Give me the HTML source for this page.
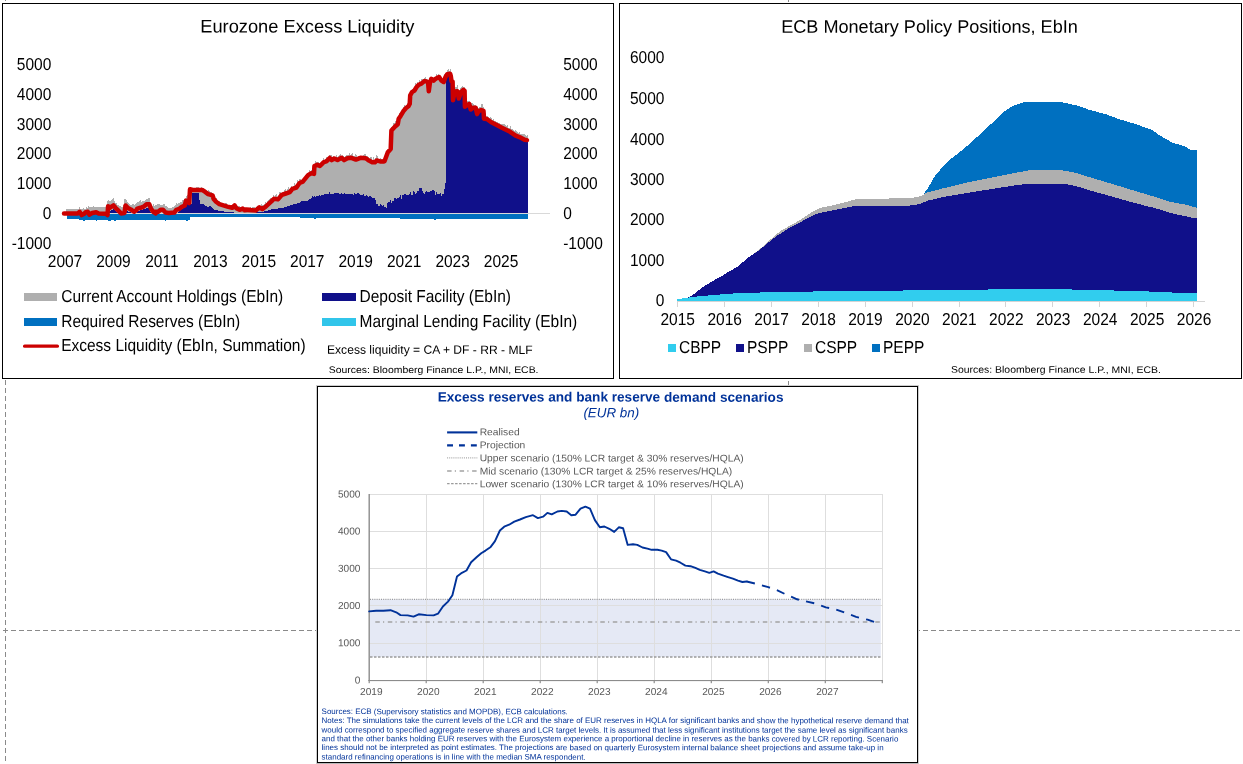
<!DOCTYPE html>
<html><head><meta charset="utf-8"><title>ECB liquidity charts</title>
<style>html,body{margin:0;padding:0;background:#fff;overflow:hidden}svg{display:block;will-change:transform}text{font-family:"Liberation Sans",sans-serif;text-rendering:geometricPrecision}</style></head>
<body>
<svg width="1243" height="764" viewBox="0 0 1243 764">
<rect x="0" y="0" width="1243" height="764" fill="#fff"/>
<g stroke="#8a8a8a" stroke-width="1" fill="none" shape-rendering="crispEdges">
<path d="M3,630.5H1243" stroke-dasharray="5 3"/>
<path d="M5.5,-4V764" stroke-dasharray="5 3"/>
<path d="M788.5,-3V764" stroke-dasharray="5 3"/>
</g>
<rect x="316.5" y="385.5" width="602" height="378" fill="none" stroke="#cdcdcd" stroke-width="1" shape-rendering="crispEdges"/>
<rect x="317" y="763" width="601" height="1" fill="#b8b8b8"/>
<g fill="#fff" stroke="#000" stroke-width="1" shape-rendering="crispEdges">
<rect x="2.5" y="3.5" width="611" height="375"/>
<rect x="619.5" y="3.5" width="622" height="375"/>
<rect x="317.5" y="386.5" width="600" height="376"/>
</g>
<g id="left">
<g shape-rendering="crispEdges">
<path d="M66.0,209.2 L67.0,209.2 L67.0,209.1 L68.0,209.1 L68.0,209.0 L69.0,209.0 L69.0,208.9 L70.0,208.9 L70.0,208.7 L71.0,208.7 L71.0,208.6 L72.0,208.6 L72.0,208.6 L73.0,208.6 L73.0,208.6 L74.0,208.6 L74.0,208.6 L75.0,208.6 L75.0,208.6 L76.0,208.6 L76.0,208.5 L77.0,208.5 L77.0,208.5 L78.0,208.5 L78.0,208.5 L79.0,208.5 L79.0,207.2 L80.0,207.2 L80.0,208.5 L81.0,208.5 L81.0,208.5 L82.0,208.5 L82.0,208.6 L83.0,208.6 L83.0,207.7 L84.0,207.7 L84.0,209.1 L85.0,209.1 L85.0,208.8 L86.0,208.8 L86.0,207.1 L87.0,207.1 L87.0,208.0 L88.0,208.0 L88.0,206.4 L89.0,206.4 L89.0,207.4 L90.0,207.4 L90.0,207.4 L91.0,207.4 L91.0,207.4 L92.0,207.4 L92.0,207.4 L93.0,207.4 L93.0,206.1 L94.0,206.1 L94.0,207.4 L95.0,207.4 L95.0,207.4 L96.0,207.4 L96.0,207.4 L97.0,207.4 L97.0,207.4 L98.0,207.4 L98.0,207.4 L99.0,207.4 L99.0,207.4 L100.0,207.4 L100.0,207.4 L101.0,207.4 L101.0,207.4 L102.0,207.4 L102.0,207.4 L103.0,207.4 L103.0,207.4 L104.0,207.4 L104.0,207.3 L105.0,207.3 L105.0,207.1 L106.0,207.1 L106.0,204.5 L107.0,204.5 L107.0,201.1 L108.0,201.1 L108.0,200.2 L109.0,200.2 L109.0,201.1 L110.0,201.1 L110.0,201.2 L111.0,201.2 L111.0,200.3 L112.0,200.3 L112.0,199.4 L113.0,199.4 L113.0,198.1 L114.0,198.1 L114.0,201.0 L115.0,201.0 L115.0,202.9 L116.0,202.9 L116.0,202.8 L117.0,202.8 L117.0,204.7 L118.0,204.7 L118.0,205.3 L119.0,205.3 L119.0,205.9 L120.0,205.9 L120.0,206.3 L121.0,206.3 L121.0,206.6 L122.0,206.6 L122.0,206.9 L123.0,206.9 L123.0,204.8 L124.0,204.8 L124.0,199.0 L125.0,199.0 L125.0,199.0 L126.0,199.0 L126.0,199.5 L127.0,199.5 L127.0,202.3 L128.0,202.3 L128.0,203.1 L129.0,203.1 L129.0,203.8 L130.0,203.8 L130.0,204.6 L131.0,204.6 L131.0,204.8 L132.0,204.8 L132.0,203.6 L133.0,203.6 L133.0,203.8 L134.0,203.8 L134.0,205.2 L135.0,205.2 L135.0,204.0 L136.0,204.0 L136.0,202.9 L137.0,202.9 L137.0,202.4 L138.0,202.4 L138.0,202.2 L139.0,202.2 L139.0,200.7 L140.0,200.7 L140.0,200.4 L141.0,200.4 L141.0,201.5 L142.0,201.5 L142.0,201.3 L143.0,201.3 L143.0,201.1 L144.0,201.1 L144.0,200.6 L145.0,200.6 L145.0,199.9 L146.0,199.9 L146.0,199.2 L147.0,199.2 L147.0,198.5 L148.0,198.5 L148.0,198.2 L149.0,198.2 L149.0,198.2 L150.0,198.2 L150.0,203.5 L151.0,203.5 L151.0,205.5 L152.0,205.5 L152.0,205.6 L153.0,205.6 L153.0,204.3 L154.0,204.3 L154.0,205.7 L155.0,205.7 L155.0,205.4 L156.0,205.4 L156.0,205.4 L157.0,205.4 L157.0,204.1 L158.0,204.1 L158.0,204.1 L159.0,204.1 L159.0,204.1 L160.0,204.1 L160.0,205.4 L161.0,205.4 L161.0,205.4 L162.0,205.4 L162.0,205.4 L163.0,205.4 L163.0,204.1 L164.0,204.1 L164.0,204.1 L165.0,204.1 L165.0,205.7 L166.0,205.7 L166.0,206.4 L167.0,206.4 L167.0,207.2 L168.0,207.2 L168.0,207.7 L169.0,207.7 L169.0,207.7 L170.0,207.7 L170.0,207.6 L171.0,207.6 L171.0,207.5 L172.0,207.5 L172.0,207.4 L173.0,207.4 L173.0,207.0 L174.0,207.0 L174.0,206.2 L175.0,206.2 L175.0,205.3 L176.0,205.3 L176.0,203.4 L177.0,203.4 L177.0,204.1 L178.0,204.1 L178.0,203.4 L179.0,203.4 L179.0,202.8 L180.0,202.8 L180.0,202.1 L181.0,202.1 L181.0,201.5 L182.0,201.5 L182.0,199.6 L183.0,199.6 L183.0,200.3 L184.0,200.3 L184.0,198.5 L185.0,198.5 L185.0,199.2 L186.0,199.2 L186.0,195.8 L187.0,195.8 L187.0,194.9 L188.0,194.9 L188.0,196.0 L189.0,196.0 L189.0,188.1 L190.0,188.1 L190.0,188.0 L191.0,188.0 L191.0,187.9 L192.0,187.9 L192.0,187.8 L193.0,187.8 L193.0,187.7 L194.0,187.7 L194.0,187.6 L195.0,187.6 L195.0,187.5 L196.0,187.5 L196.0,187.4 L197.0,187.4 L197.0,187.3 L198.0,187.3 L198.0,187.4 L199.0,187.4 L199.0,187.6 L200.0,187.6 L200.0,187.8 L201.0,187.8 L201.0,186.7 L202.0,186.7 L202.0,188.2 L203.0,188.2 L203.0,188.4 L204.0,188.4 L204.0,189.0 L205.0,189.0 L205.0,189.7 L206.0,189.7 L206.0,190.4 L207.0,190.4 L207.0,191.1 L208.0,191.1 L208.0,190.2 L209.0,190.2 L209.0,190.5 L210.0,190.5 L210.0,192.1 L211.0,192.1 L211.0,192.4 L212.0,192.4 L212.0,193.4 L213.0,193.4 L213.0,194.8 L214.0,194.8 L214.0,196.2 L215.0,196.2 L215.0,197.9 L216.0,197.9 L216.0,198.2 L217.0,198.2 L217.0,200.4 L218.0,200.4 L218.0,201.2 L219.0,201.2 L219.0,200.6 L220.0,200.6 L220.0,202.4 L221.0,202.4 L221.0,202.8 L222.0,202.8 L222.0,203.2 L223.0,203.2 L223.0,203.6 L224.0,203.6 L224.0,204.0 L225.0,204.0 L225.0,203.0 L226.0,203.0 L226.0,203.3 L227.0,203.3 L227.0,204.9 L228.0,204.9 L228.0,205.1 L229.0,205.1 L229.0,205.4 L230.0,205.4 L230.0,205.6 L231.0,205.6 L231.0,205.9 L232.0,205.9 L232.0,205.4 L233.0,205.4 L233.0,204.4 L234.0,204.4 L234.0,203.8 L235.0,203.8 L235.0,204.4 L236.0,204.4 L236.0,204.9 L237.0,204.9 L237.0,205.6 L238.0,205.6 L238.0,206.0 L239.0,206.0 L239.0,206.3 L240.0,206.3 L240.0,206.5 L241.0,206.5 L241.0,207.8 L242.0,207.8 L242.0,207.8 L243.0,207.8 L243.0,207.8 L244.0,207.8 L244.0,207.8 L245.0,207.8 L245.0,207.8 L246.0,207.8 L246.0,207.8 L247.0,207.8 L247.0,207.8 L248.0,207.8 L248.0,207.8 L249.0,207.8 L249.0,207.8 L250.0,207.8 L250.0,206.5 L251.0,206.5 L251.0,207.8 L252.0,207.8 L252.0,206.5 L253.0,206.5 L253.0,206.5 L254.0,206.5 L254.0,206.5 L255.0,206.5 L255.0,207.8 L256.0,207.8 L256.0,207.8 L257.0,207.8 L257.0,207.8 L258.0,207.8 L258.0,207.1 L259.0,207.1 L259.0,206.8 L260.0,206.8 L260.0,207.2 L261.0,207.2 L261.0,204.4 L262.0,204.4 L262.0,204.7 L263.0,204.7 L263.0,204.9 L264.0,204.9 L264.0,204.1 L265.0,204.1 L265.0,202.2 L266.0,202.2 L266.0,203.3 L267.0,203.3 L267.0,201.4 L268.0,201.4 L268.0,199.5 L269.0,199.5 L269.0,198.6 L270.0,198.6 L270.0,197.7 L271.0,197.7 L271.0,197.8 L272.0,197.8 L272.0,197.8 L273.0,197.8 L273.0,194.8 L274.0,194.8 L274.0,196.7 L275.0,196.7 L275.0,194.9 L276.0,194.9 L276.0,193.9 L277.0,193.9 L277.0,197.2 L278.0,197.2 L278.0,196.2 L279.0,196.2 L279.0,191.8 L280.0,191.8 L280.0,191.9 L281.0,191.9 L281.0,192.8 L282.0,192.8 L282.0,192.4 L283.0,192.4 L283.0,192.1 L284.0,192.1 L284.0,189.8 L285.0,189.8 L285.0,189.4 L286.0,189.4 L286.0,191.1 L287.0,191.1 L287.0,188.8 L288.0,188.8 L288.0,187.2 L289.0,187.2 L289.0,188.9 L290.0,188.9 L290.0,188.6 L291.0,188.6 L291.0,186.4 L292.0,186.4 L292.0,186.7 L293.0,186.7 L293.0,186.4 L294.0,186.4 L294.0,182.8 L295.0,182.8 L295.0,184.7 L296.0,184.7 L296.0,183.6 L297.0,183.6 L297.0,180.0 L298.0,180.0 L298.0,181.8 L299.0,181.8 L299.0,178.9 L300.0,178.9 L300.0,178.5 L301.0,178.5 L301.0,180.1 L302.0,180.1 L302.0,179.5 L303.0,179.5 L303.0,178.3 L304.0,178.3 L304.0,177.0 L305.0,177.0 L305.0,174.8 L306.0,174.8 L306.0,174.5 L307.0,174.5 L307.0,173.3 L308.0,173.3 L308.0,172.6 L309.0,172.6 L309.0,170.0 L310.0,170.0 L310.0,171.4 L311.0,171.4 L311.0,170.2 L312.0,170.2 L312.0,170.4 L313.0,170.4 L313.0,169.4 L314.0,169.4 L314.0,163.7 L315.0,163.7 L315.0,161.3 L316.0,161.3 L316.0,161.8 L317.0,161.8 L317.0,161.7 L318.0,161.7 L318.0,162.1 L319.0,162.1 L319.0,163.6 L320.0,163.6 L320.0,162.9 L321.0,162.9 L321.0,161.9 L322.0,161.9 L322.0,160.9 L323.0,160.9 L323.0,158.0 L324.0,158.0 L324.0,159.8 L325.0,159.8 L325.0,158.5 L326.0,158.5 L326.0,156.8 L327.0,156.8 L327.0,156.8 L328.0,156.8 L328.0,156.7 L329.0,156.7 L329.0,155.0 L330.0,155.0 L330.0,155.4 L331.0,155.4 L331.0,155.4 L332.0,155.4 L332.0,157.3 L333.0,157.3 L333.0,155.7 L334.0,155.7 L334.0,156.5 L335.0,156.5 L335.0,156.9 L336.0,156.9 L336.0,155.4 L337.0,155.4 L337.0,156.8 L338.0,156.8 L338.0,156.2 L339.0,156.2 L339.0,154.6 L340.0,154.6 L340.0,154.0 L341.0,154.0 L341.0,155.8 L342.0,155.8 L342.0,155.2 L343.0,155.2 L343.0,156.1 L344.0,156.1 L344.0,156.6 L345.0,156.6 L345.0,156.0 L346.0,156.0 L346.0,155.4 L347.0,155.4 L347.0,155.1 L348.0,155.1 L348.0,155.0 L349.0,155.0 L349.0,152.7 L350.0,152.7 L350.0,154.8 L351.0,154.8 L351.0,153.8 L352.0,153.8 L352.0,152.8 L353.0,152.8 L353.0,156.4 L354.0,156.4 L354.0,155.8 L355.0,155.8 L355.0,154.0 L356.0,154.0 L356.0,155.1 L357.0,155.1 L357.0,156.7 L358.0,156.7 L358.0,156.3 L359.0,156.3 L359.0,155.9 L360.0,155.9 L360.0,155.8 L361.0,155.8 L361.0,155.8 L362.0,155.8 L362.0,155.9 L363.0,155.9 L363.0,154.9 L364.0,154.9 L364.0,154.0 L365.0,154.0 L365.0,154.1 L366.0,154.1 L366.0,156.4 L367.0,156.4 L367.0,156.1 L368.0,156.1 L368.0,156.9 L369.0,156.9 L369.0,158.7 L370.0,158.7 L370.0,157.2 L371.0,157.2 L371.0,156.5 L372.0,156.5 L372.0,160.2 L373.0,160.2 L373.0,157.1 L374.0,157.1 L374.0,160.2 L375.0,160.2 L375.0,158.2 L376.0,158.2 L376.0,155.2 L377.0,155.2 L377.0,156.4 L378.0,156.4 L378.0,158.8 L379.0,158.8 L379.0,159.1 L380.0,159.1 L380.0,158.4 L381.0,158.4 L381.0,159.4 L382.0,159.4 L382.0,159.4 L383.0,159.4 L383.0,159.4 L384.0,159.4 L384.0,155.8 L385.0,155.8 L385.0,155.1 L386.0,155.1 L386.0,151.4 L387.0,151.4 L387.0,150.1 L388.0,150.1 L388.0,148.9 L389.0,148.9 L389.0,147.8 L390.0,147.8 L390.0,138.0 L391.0,138.0 L391.0,126.9 L392.0,126.9 L392.0,126.8 L393.0,126.8 L393.0,122.5 L394.0,122.5 L394.0,122.5 L395.0,122.5 L395.0,120.5 L396.0,120.5 L396.0,122.9 L397.0,122.9 L397.0,121.2 L398.0,121.2 L398.0,116.3 L399.0,116.3 L399.0,112.8 L400.0,112.8 L400.0,113.2 L401.0,113.2 L401.0,111.5 L402.0,111.5 L402.0,109.9 L403.0,109.9 L403.0,106.5 L404.0,106.5 L404.0,105.4 L405.0,105.4 L405.0,106.2 L406.0,106.2 L406.0,105.4 L407.0,105.4 L407.0,102.6 L408.0,102.6 L408.0,102.2 L409.0,102.2 L409.0,96.2 L410.0,96.2 L410.0,91.9 L411.0,91.9 L411.0,90.1 L412.0,90.1 L412.0,88.5 L413.0,88.5 L413.0,88.9 L414.0,88.9 L414.0,87.6 L415.0,87.6 L415.0,82.8 L416.0,82.8 L416.0,83.7 L417.0,83.7 L417.0,81.7 L418.0,81.7 L418.0,82.7 L419.0,82.7 L419.0,80.2 L420.0,80.2 L420.0,81.7 L421.0,81.7 L421.0,79.1 L422.0,79.1 L422.0,79.3 L423.0,79.3 L423.0,79.4 L424.0,79.4 L424.0,78.1 L425.0,78.1 L425.0,77.2 L426.0,77.2 L426.0,79.4 L427.0,79.4 L427.0,79.8 L428.0,79.8 L428.0,79.8 L429.0,79.8 L429.0,80.7 L430.0,80.7 L430.0,77.7 L431.0,77.7 L431.0,76.8 L432.0,76.8 L432.0,77.4 L433.0,77.4 L433.0,78.2 L434.0,78.2 L434.0,77.2 L435.0,77.2 L435.0,76.6 L436.0,76.6 L436.0,74.0 L437.0,74.0 L437.0,75.5 L438.0,75.5 L438.0,74.0 L439.0,74.0 L439.0,75.0 L440.0,75.0 L440.0,76.4 L441.0,76.4 L441.0,78.0 L442.0,78.0 L442.0,79.0 L443.0,79.0 L443.0,79.1 L444.0,79.1 L444.0,74.3 L445.0,74.3 L445.0,73.2 L446.0,73.2 L446.0,72.7 L447.0,72.7 L447.0,70.0 L448.0,70.0 L448.0,68.8 L449.0,68.8 L449.0,70.7 L450.0,70.7 L450.0,68.6 L451.0,68.6 L451.0,73.4 L452.0,73.4 L452.0,77.2 L453.0,77.2 L453.0,90.0 L454.0,90.0 L454.0,88.5 L455.0,88.5 L455.0,87.3 L456.0,87.3 L456.0,87.1 L457.0,87.1 L457.0,85.1 L458.0,85.1 L458.0,91.2 L459.0,91.2 L459.0,90.0 L460.0,90.0 L460.0,88.2 L461.0,88.2 L461.0,87.1 L462.0,87.1 L462.0,86.1 L463.0,86.1 L463.0,86.7 L464.0,86.7 L464.0,87.2 L465.0,87.2 L465.0,102.8 L466.0,102.8 L466.0,102.1 L467.0,102.1 L467.0,100.6 L468.0,100.6 L468.0,101.1 L469.0,101.1 L469.0,100.9 L470.0,100.9 L470.0,103.6 L471.0,103.6 L471.0,103.4 L472.0,103.4 L472.0,102.6 L473.0,102.6 L473.0,103.6 L474.0,103.6 L474.0,104.6 L475.0,104.6 L475.0,104.6 L476.0,104.6 L476.0,105.8 L477.0,105.8 L477.0,108.2 L478.0,108.2 L478.0,108.0 L479.0,108.0 L479.0,106.5 L480.0,106.5 L480.0,107.0 L481.0,107.0 L481.0,103.9 L482.0,103.9 L482.0,104.2 L483.0,104.2 L483.0,106.6 L484.0,106.6 L484.0,115.6 L485.0,115.6 L485.0,112.7 L486.0,112.7 L486.0,115.8 L487.0,115.8 L487.0,116.0 L488.0,116.0 L488.0,116.8 L489.0,116.8 L489.0,117.5 L490.0,117.5 L490.0,117.3 L491.0,117.3 L491.0,118.0 L492.0,118.0 L492.0,119.6 L493.0,119.6 L493.0,119.1 L494.0,119.1 L494.0,120.6 L495.0,120.6 L495.0,121.1 L496.0,121.1 L496.0,121.6 L497.0,121.6 L497.0,122.1 L498.0,122.1 L498.0,122.6 L499.0,122.6 L499.0,123.1 L500.0,123.1 L500.0,123.6 L501.0,123.6 L501.0,124.1 L502.0,124.1 L502.0,123.6 L503.0,123.6 L503.0,124.1 L504.0,124.1 L504.0,123.6 L505.0,123.6 L505.0,125.1 L506.0,125.1 L506.0,125.6 L507.0,125.6 L507.0,125.1 L508.0,125.1 L508.0,127.6 L509.0,127.6 L509.0,128.1 L510.0,128.1 L510.0,125.7 L511.0,125.7 L511.0,129.4 L512.0,129.4 L512.0,129.1 L513.0,129.1 L513.0,129.7 L514.0,129.7 L514.0,131.4 L515.0,131.4 L515.0,130.1 L516.0,130.1 L516.0,130.7 L517.0,130.7 L517.0,132.1 L518.0,132.1 L518.0,132.5 L519.0,132.5 L519.0,131.9 L520.0,131.9 L520.0,134.3 L521.0,134.3 L521.0,133.7 L522.0,133.7 L522.0,134.2 L523.0,134.2 L523.0,133.7 L524.0,133.7 L524.0,134.2 L525.0,134.2 L525.0,134.6 L526.0,134.6 L526.0,135.8 L527.0,135.8 L527.0,135.0 L528.0,135.0 L528.0,213.5 L66.0,213.5Z" fill="#afafaf"/>
<path d="M66.0,213.3 L67.0,213.3 L67.0,213.3 L68.0,213.3 L68.0,213.3 L69.0,213.3 L69.0,213.3 L70.0,213.3 L70.0,213.3 L71.0,213.3 L71.0,213.3 L72.0,213.3 L72.0,213.3 L73.0,213.3 L73.0,213.3 L74.0,213.3 L74.0,213.3 L75.0,213.3 L75.0,213.3 L76.0,213.3 L76.0,213.3 L77.0,213.3 L77.0,213.3 L78.0,213.3 L78.0,213.3 L79.0,213.3 L79.0,213.3 L80.0,213.3 L80.0,213.3 L81.0,213.3 L81.0,213.3 L82.0,213.3 L82.0,213.3 L83.0,213.3 L83.0,213.3 L84.0,213.3 L84.0,213.3 L85.0,213.3 L85.0,213.3 L86.0,213.3 L86.0,213.3 L87.0,213.3 L87.0,213.3 L88.0,213.3 L88.0,213.3 L89.0,213.3 L89.0,213.3 L90.0,213.3 L90.0,213.3 L91.0,213.3 L91.0,213.3 L92.0,213.3 L92.0,213.3 L93.0,213.3 L93.0,213.3 L94.0,213.3 L94.0,213.3 L95.0,213.3 L95.0,213.3 L96.0,213.3 L96.0,213.3 L97.0,213.3 L97.0,213.3 L98.0,213.3 L98.0,213.3 L99.0,213.3 L99.0,213.3 L100.0,213.3 L100.0,213.3 L101.0,213.3 L101.0,213.3 L102.0,213.3 L102.0,213.3 L103.0,213.3 L103.0,213.3 L104.0,213.3 L104.0,213.3 L105.0,213.3 L105.0,213.3 L106.0,213.3 L106.0,213.3 L107.0,213.3 L107.0,213.3 L108.0,213.3 L108.0,211.8 L109.0,211.8 L109.0,211.0 L110.0,211.0 L110.0,210.5 L111.0,210.5 L111.0,210.0 L112.0,210.0 L112.0,209.5 L113.0,209.5 L113.0,209.4 L114.0,209.4 L114.0,210.1 L115.0,210.1 L115.0,210.8 L116.0,210.8 L116.0,211.6 L117.0,211.6 L117.0,212.2 L118.0,212.2 L118.0,212.8 L119.0,212.8 L119.0,213.3 L120.0,213.3 L120.0,213.3 L121.0,213.3 L121.0,213.3 L122.0,213.3 L122.0,213.3 L123.0,213.3 L123.0,213.3 L124.0,213.3 L124.0,212.7 L125.0,212.7 L125.0,211.8 L126.0,211.8 L126.0,211.0 L127.0,211.0 L127.0,211.1 L128.0,211.1 L128.0,211.5 L129.0,211.5 L129.0,211.9 L130.0,211.9 L130.0,212.2 L131.0,212.2 L131.0,212.7 L132.0,212.7 L132.0,213.1 L133.0,213.1 L133.0,213.1 L134.0,213.1 L134.0,212.9 L135.0,212.9 L135.0,212.8 L136.0,212.8 L136.0,212.7 L137.0,212.7 L137.0,211.1 L138.0,211.1 L138.0,210.8 L139.0,210.8 L139.0,210.5 L140.0,210.5 L140.0,210.2 L141.0,210.2 L141.0,209.9 L142.0,209.9 L142.0,209.6 L143.0,209.6 L143.0,209.3 L144.0,209.3 L144.0,208.9 L145.0,208.9 L145.0,208.5 L146.0,208.5 L146.0,208.1 L147.0,208.1 L147.0,207.8 L148.0,207.8 L148.0,208.3 L149.0,208.3 L149.0,210.0 L150.0,210.0 L150.0,211.7 L151.0,211.7 L151.0,213.3 L152.0,213.3 L152.0,213.3 L153.0,213.3 L153.0,213.3 L154.0,213.3 L154.0,213.3 L155.0,213.3 L155.0,213.3 L156.0,213.3 L156.0,213.3 L157.0,213.3 L157.0,213.3 L158.0,213.3 L158.0,213.3 L159.0,213.3 L159.0,213.3 L160.0,213.3 L160.0,213.3 L161.0,213.3 L161.0,213.3 L162.0,213.3 L162.0,213.3 L163.0,213.3 L163.0,213.3 L164.0,213.3 L164.0,213.3 L165.0,213.3 L165.0,213.3 L166.0,213.3 L166.0,213.3 L167.0,213.3 L167.0,213.3 L168.0,213.3 L168.0,213.3 L169.0,213.3 L169.0,213.3 L170.0,213.3 L170.0,213.3 L171.0,213.3 L171.0,213.3 L172.0,213.3 L172.0,213.3 L173.0,213.3 L173.0,213.3 L174.0,213.3 L174.0,213.3 L175.0,213.3 L175.0,213.3 L176.0,213.3 L176.0,213.3 L177.0,213.3 L177.0,213.2 L178.0,213.2 L178.0,212.1 L179.0,212.1 L179.0,211.1 L180.0,211.1 L180.0,210.0 L181.0,210.0 L181.0,209.1 L182.0,209.1 L182.0,208.5 L183.0,208.5 L183.0,207.9 L184.0,207.9 L184.0,207.3 L185.0,207.3 L185.0,205.1 L186.0,205.1 L186.0,200.6 L187.0,200.6 L187.0,199.8 L188.0,199.8 L188.0,199.8 L189.0,199.8 L189.0,199.8 L190.0,199.8 L190.0,203.8 L191.0,203.8 L191.0,203.8 L192.0,203.8 L192.0,193.3 L193.0,193.3 L193.0,193.3 L194.0,193.3 L194.0,193.3 L195.0,193.3 L195.0,193.3 L196.0,193.3 L196.0,193.3 L197.0,193.3 L197.0,193.3 L198.0,193.3 L198.0,193.3 L199.0,193.3 L199.0,199.8 L200.0,199.8 L200.0,203.8 L201.0,203.8 L201.0,204.3 L202.0,204.3 L202.0,204.3 L203.0,204.3 L203.0,204.2 L204.0,204.2 L204.0,204.8 L205.0,204.8 L205.0,205.6 L206.0,205.6 L206.0,206.4 L207.0,206.4 L207.0,207.1 L208.0,207.1 L208.0,206.8 L209.0,206.8 L209.0,206.4 L210.0,206.4 L210.0,206.2 L211.0,206.2 L211.0,206.9 L212.0,206.9 L212.0,208.2 L213.0,208.2 L213.0,209.4 L214.0,209.4 L214.0,209.7 L215.0,209.7 L215.0,209.9 L216.0,209.9 L216.0,210.2 L217.0,210.2 L217.0,210.4 L218.0,210.4 L218.0,210.7 L219.0,210.7 L219.0,210.8 L220.0,210.8 L220.0,210.9 L221.0,210.9 L221.0,211.1 L222.0,211.1 L222.0,211.2 L223.0,211.2 L223.0,211.4 L224.0,211.4 L224.0,211.5 L225.0,211.5 L225.0,211.6 L226.0,211.6 L226.0,211.7 L227.0,211.7 L227.0,211.8 L228.0,211.8 L228.0,211.9 L229.0,211.9 L229.0,212.0 L230.0,212.0 L230.0,212.1 L231.0,212.1 L231.0,212.2 L232.0,212.2 L232.0,212.3 L233.0,212.3 L233.0,212.4 L234.0,212.4 L234.0,212.5 L235.0,212.5 L235.0,212.5 L236.0,212.5 L236.0,212.6 L237.0,212.6 L237.0,212.6 L238.0,212.6 L238.0,212.7 L239.0,212.7 L239.0,212.7 L240.0,212.7 L240.0,212.7 L241.0,212.7 L241.0,212.7 L242.0,212.7 L242.0,212.7 L243.0,212.7 L243.0,212.7 L244.0,212.7 L244.0,212.7 L245.0,212.7 L245.0,212.7 L246.0,212.7 L246.0,212.7 L247.0,212.7 L247.0,212.7 L248.0,212.7 L248.0,212.8 L249.0,212.8 L249.0,212.9 L250.0,212.9 L250.0,212.9 L251.0,212.9 L251.0,212.8 L252.0,212.8 L252.0,212.7 L253.0,212.7 L253.0,212.7 L254.0,212.7 L254.0,212.6 L255.0,212.6 L255.0,212.5 L256.0,212.5 L256.0,212.4 L257.0,212.4 L257.0,212.3 L258.0,212.3 L258.0,212.3 L259.0,212.3 L259.0,212.2 L260.0,212.2 L260.0,212.0 L261.0,212.0 L261.0,211.8 L262.0,211.8 L262.0,211.7 L263.0,211.7 L263.0,211.5 L264.0,211.5 L264.0,211.4 L265.0,211.4 L265.0,211.2 L266.0,211.2 L266.0,210.9 L267.0,210.9 L267.0,210.6 L268.0,210.6 L268.0,210.3 L269.0,210.3 L269.0,210.0 L270.0,210.0 L270.0,209.7 L271.0,209.7 L271.0,209.4 L272.0,209.4 L272.0,209.2 L273.0,209.2 L273.0,209.0 L274.0,209.0 L274.0,208.9 L275.0,208.9 L275.0,208.8 L276.0,208.8 L276.0,208.6 L277.0,208.6 L277.0,208.5 L278.0,208.5 L278.0,208.3 L279.0,208.3 L279.0,208.2 L280.0,208.2 L280.0,208.0 L281.0,208.0 L281.0,207.9 L282.0,207.9 L282.0,207.7 L283.0,207.7 L283.0,207.5 L284.0,207.5 L284.0,207.4 L285.0,207.4 L285.0,207.2 L286.0,207.2 L286.0,206.8 L287.0,206.8 L287.0,206.4 L288.0,206.4 L288.0,206.0 L289.0,206.0 L289.0,205.6 L290.0,205.6 L290.0,205.2 L291.0,205.2 L291.0,204.8 L292.0,204.8 L292.0,204.5 L293.0,204.5 L293.0,204.2 L294.0,204.2 L294.0,204.0 L295.0,204.0 L295.0,203.8 L296.0,203.8 L296.0,203.5 L297.0,203.5 L297.0,203.3 L298.0,203.3 L298.0,203.0 L299.0,203.0 L299.0,202.6 L300.0,202.6 L300.0,202.1 L301.0,202.1 L301.0,200.7 L302.0,200.7 L302.0,201.2 L303.0,201.2 L303.0,200.8 L304.0,200.8 L304.0,200.7 L305.0,200.7 L305.0,200.8 L306.0,200.8 L306.0,200.6 L307.0,200.6 L307.0,201.2 L308.0,201.2 L308.0,199.9 L309.0,199.9 L309.0,199.2 L310.0,199.2 L310.0,198.9 L311.0,198.9 L311.0,198.1 L312.0,198.1 L312.0,196.2 L313.0,196.2 L313.0,196.9 L314.0,196.9 L314.0,196.0 L315.0,196.0 L315.0,196.6 L316.0,196.6 L316.0,196.4 L317.0,196.4 L317.0,195.6 L318.0,195.6 L318.0,196.0 L319.0,196.0 L319.0,194.7 L320.0,194.7 L320.0,195.6 L321.0,195.6 L321.0,195.4 L322.0,195.4 L322.0,195.2 L323.0,195.2 L323.0,195.0 L324.0,195.0 L324.0,194.4 L325.0,194.4 L325.0,193.5 L326.0,193.5 L326.0,194.3 L327.0,194.3 L327.0,194.1 L328.0,194.1 L328.0,193.8 L329.0,193.8 L329.0,192.4 L330.0,192.4 L330.0,193.5 L331.0,193.5 L331.0,193.6 L332.0,193.6 L332.0,193.6 L333.0,193.6 L333.0,193.7 L334.0,193.7 L334.0,192.8 L335.0,192.8 L335.0,192.9 L336.0,192.9 L336.0,193.4 L337.0,193.4 L337.0,192.8 L338.0,192.8 L338.0,193.0 L339.0,193.0 L339.0,194.0 L340.0,194.0 L340.0,194.1 L341.0,194.1 L341.0,193.1 L342.0,193.1 L342.0,193.5 L343.0,193.5 L343.0,193.9 L344.0,193.9 L344.0,193.4 L345.0,193.4 L345.0,193.7 L346.0,193.7 L346.0,193.6 L347.0,193.6 L347.0,193.5 L348.0,193.5 L348.0,193.5 L349.0,193.5 L349.0,193.8 L350.0,193.8 L350.0,194.1 L351.0,194.1 L351.0,194.4 L352.0,194.4 L352.0,193.5 L353.0,193.5 L353.0,194.6 L354.0,194.6 L354.0,193.4 L355.0,193.4 L355.0,194.4 L356.0,194.4 L356.0,194.3 L357.0,194.3 L357.0,193.4 L358.0,193.4 L358.0,193.4 L359.0,193.4 L359.0,194.4 L360.0,194.4 L360.0,194.7 L361.0,194.7 L361.0,194.9 L362.0,194.9 L362.0,195.2 L363.0,195.2 L363.0,194.4 L364.0,194.4 L364.0,195.7 L365.0,195.7 L365.0,195.9 L366.0,195.9 L366.0,195.1 L367.0,195.1 L367.0,196.3 L368.0,196.3 L368.0,196.5 L369.0,196.5 L369.0,195.9 L370.0,195.9 L370.0,196.3 L371.0,196.3 L371.0,197.2 L372.0,197.2 L372.0,197.6 L373.0,197.6 L373.0,197.9 L374.0,197.9 L374.0,197.7 L375.0,197.7 L375.0,200.0 L376.0,200.0 L376.0,203.8 L377.0,203.8 L377.0,204.3 L378.0,204.3 L378.0,206.2 L379.0,206.2 L379.0,206.1 L380.0,206.1 L380.0,203.6 L381.0,203.6 L381.0,205.3 L382.0,205.3 L382.0,206.1 L383.0,206.1 L383.0,205.3 L384.0,205.3 L384.0,206.8 L385.0,206.8 L385.0,206.5 L386.0,206.5 L386.0,207.5 L387.0,207.5 L387.0,203.3 L388.0,203.3 L388.0,201.6 L389.0,201.6 L389.0,202.2 L390.0,202.2 L390.0,199.8 L391.0,199.8 L391.0,203.4 L392.0,203.4 L392.0,201.3 L393.0,201.3 L393.0,201.0 L394.0,201.0 L394.0,198.1 L395.0,198.1 L395.0,197.5 L396.0,197.5 L396.0,199.1 L397.0,199.1 L397.0,198.4 L398.0,198.4 L398.0,197.6 L399.0,197.6 L399.0,196.9 L400.0,196.9 L400.0,194.5 L401.0,194.5 L401.0,198.5 L402.0,198.5 L402.0,194.8 L403.0,194.8 L403.0,194.9 L404.0,194.9 L404.0,194.3 L405.0,194.3 L405.0,194.4 L406.0,194.4 L406.0,195.0 L407.0,195.0 L407.0,195.1 L408.0,195.1 L408.0,194.6 L409.0,194.6 L409.0,194.1 L410.0,194.1 L410.0,192.1 L411.0,192.1 L411.0,195.1 L412.0,195.1 L412.0,194.6 L413.0,194.6 L413.0,190.9 L414.0,190.9 L414.0,191.9 L415.0,191.9 L415.0,193.5 L416.0,193.5 L416.0,193.2 L417.0,193.2 L417.0,190.6 L418.0,190.6 L418.0,190.5 L419.0,190.5 L419.0,187.7 L420.0,187.7 L420.0,188.2 L421.0,188.2 L421.0,188.0 L422.0,188.0 L422.0,190.8 L423.0,190.8 L423.0,193.2 L424.0,193.2 L424.0,193.5 L425.0,193.5 L425.0,191.8 L426.0,191.8 L426.0,191.1 L427.0,191.1 L427.0,192.2 L428.0,192.2 L428.0,192.0 L429.0,192.0 L429.0,191.9 L430.0,191.9 L430.0,191.1 L431.0,191.1 L431.0,190.6 L432.0,190.6 L432.0,190.1 L433.0,190.1 L433.0,189.5 L434.0,189.5 L434.0,190.9 L435.0,190.9 L435.0,194.5 L436.0,194.5 L436.0,191.5 L437.0,191.5 L437.0,194.0 L438.0,194.0 L438.0,194.1 L439.0,194.1 L439.0,194.3 L440.0,194.3 L440.0,192.9 L441.0,192.9 L441.0,195.9 L442.0,195.9 L442.0,193.8 L443.0,193.8 L443.0,193.6 L444.0,193.6 L444.0,189.3 L445.0,189.3 L445.0,182.6 L446.0,182.6 L446.0,74.9 L447.0,74.9 L447.0,74.3 L448.0,74.3 L448.0,74.1 L449.0,74.1 L449.0,75.5 L450.0,75.5 L450.0,73.9 L451.0,73.9 L451.0,77.7 L452.0,77.7 L452.0,81.5 L453.0,81.5 L453.0,95.3 L454.0,95.3 L454.0,93.3 L455.0,93.3 L455.0,91.6 L456.0,91.6 L456.0,91.4 L457.0,91.4 L457.0,91.4 L458.0,91.4 L458.0,94.5 L459.0,94.5 L459.0,96.8 L460.0,96.8 L460.0,92.5 L461.0,92.5 L461.0,91.4 L462.0,91.4 L462.0,90.4 L463.0,90.4 L463.0,90.0 L464.0,90.0 L464.0,92.0 L465.0,92.0 L465.0,106.1 L466.0,106.1 L466.0,106.9 L467.0,106.9 L467.0,104.9 L468.0,104.9 L468.0,104.4 L469.0,104.4 L469.0,104.2 L470.0,104.2 L470.0,106.9 L471.0,106.9 L471.0,108.7 L472.0,108.7 L472.0,109.4 L473.0,109.4 L473.0,107.9 L474.0,107.9 L474.0,107.9 L475.0,107.9 L475.0,107.9 L476.0,107.9 L476.0,109.1 L477.0,109.1 L477.0,112.5 L478.0,112.5 L478.0,111.3 L479.0,111.3 L479.0,110.8 L480.0,110.8 L480.0,110.3 L481.0,110.3 L481.0,110.2 L482.0,110.2 L482.0,110.5 L483.0,110.5 L483.0,110.9 L484.0,110.9 L484.0,118.9 L485.0,118.9 L485.0,119.0 L486.0,119.0 L486.0,119.1 L487.0,119.1 L487.0,119.3 L488.0,119.3 L488.0,120.1 L489.0,120.1 L489.0,120.8 L490.0,120.8 L490.0,121.6 L491.0,121.6 L491.0,122.3 L492.0,122.3 L492.0,122.9 L493.0,122.9 L493.0,123.4 L494.0,123.4 L494.0,123.9 L495.0,123.9 L495.0,124.4 L496.0,124.4 L496.0,124.9 L497.0,124.9 L497.0,125.4 L498.0,125.4 L498.0,125.9 L499.0,125.9 L499.0,126.4 L500.0,126.4 L500.0,126.9 L501.0,126.9 L501.0,127.4 L502.0,127.4 L502.0,127.9 L503.0,127.9 L503.0,129.9 L504.0,129.9 L504.0,128.9 L505.0,128.9 L505.0,129.4 L506.0,129.4 L506.0,129.9 L507.0,129.9 L507.0,130.4 L508.0,130.4 L508.0,130.9 L509.0,130.9 L509.0,132.9 L510.0,132.9 L510.0,132.0 L511.0,132.0 L511.0,132.7 L512.0,132.7 L512.0,133.4 L513.0,133.4 L513.0,134.0 L514.0,134.0 L514.0,134.7 L515.0,134.7 L515.0,136.9 L516.0,136.9 L516.0,136.0 L517.0,136.0 L517.0,136.4 L518.0,136.4 L518.0,136.8 L519.0,136.8 L519.0,137.2 L520.0,137.2 L520.0,137.6 L521.0,137.6 L521.0,138.0 L522.0,138.0 L522.0,138.5 L523.0,138.5 L523.0,139.0 L524.0,139.0 L524.0,139.5 L525.0,139.5 L525.0,141.4 L526.0,141.4 L526.0,140.1 L527.0,140.1 L527.0,140.3 L528.0,140.3 L528.0,213.5 L66.0,213.5Z" fill="#10108a"/>
<path d="M67.0,214.0 L67.0,219.0 L79.0,219.0 L79.0,220.0 L190.0,220.0 L190.0,217.0 L300.0,217.0 L300.0,218.0 L400.0,218.0 L400.0,219.0 L528.0,219.0 L528.0,214.0Z" fill="#0070c0"/>
<rect x="83" y="219" width="2" height="2" fill="#0070c0"/>
<rect x="96" y="219" width="1" height="2" fill="#0070c0"/>
<rect x="108" y="219" width="3" height="2" fill="#0070c0"/>
<rect x="114" y="219" width="2" height="2" fill="#0070c0"/>
<rect x="165" y="219" width="1" height="2" fill="#0070c0"/>
<rect x="186" y="219" width="2" height="2" fill="#0070c0"/>
<rect x="314" y="217" width="2" height="2" fill="#0070c0"/>
<rect x="434" y="218" width="2" height="2" fill="#0070c0"/>
<rect x="64" y="213" width="486" height="1" fill="#d9d9d9"/>
</g>
<path d="M64.0,213.4 L77.7,213.4 L79.7,211.8 L81.7,215.1 L84.1,213.8 L85.7,212.2 L87.8,211.8 L89.4,214.7 L92.2,213.0 L96.2,212.2 L98.6,213.4 L105.9,213.8 L107.5,215.1 L108.1,206.2 L109.9,207.8 L111.5,206.6 L113.5,205.4 L115.5,207.8 L117.9,210.2 L121.1,213.4 L124.4,213.0 L125.6,205.4 L127.6,207.8 L130.8,209.4 L134.0,211.8 L136.4,210.2 L137.2,208.6 L140.5,207.8 L143.7,206.6 L146.5,204.2 L149.3,204.2 L150.9,208.6 L153.3,211.8 L155.7,213.4 L155.0,211.8 L158.2,211.8 L160.6,209.8 L163.0,209.8 L165.5,212.6 L168.7,213.0 L174.3,212.6 L176.3,209.8 L179.1,209.0 L181.5,207.0 L184.8,205.4 L186.0,200.6 L187.6,201.8 L189.2,203.0 L190.0,189.3 L192.8,190.0 L198.4,190.1 L202.5,190.1 L204.9,191.7 L208.1,194.1 L212.5,195.3 L213.7,199.0 L216.1,201.8 L219.4,204.2 L223.4,205.4 L227.4,206.6 L232.2,207.8 L234.6,205.4 L236.3,208.2 L239.5,209.8 L242.7,208.6 L244.3,210.2 L249.9,209.8 L242.6,209.2 L247.9,209.9 L255.7,210.5 L259.4,207.3 L262.3,209.2 L264.9,207.3 L271.4,201.4 L274.0,198.7 L278.0,199.4 L281.9,194.8 L285.8,193.5 L289.8,192.2 L292.4,188.9 L296.3,187.6 L299.6,183.0 L302.8,181.7 L308.1,175.2 L311.4,173.2 L314.0,173.9 L314.4,166.0 L317.3,164.7 L319.9,166.0 L323.8,162.1 L326.4,161.4 L329.7,158.0 L331.7,160.1 L334.3,158.5 L337.5,160.1 L341.5,157.8 L344.1,160.1 L347.4,158.2 L351.3,157.8 L355.9,159.6 L360.5,157.8 L365.7,158.2 L369.0,160.6 L372.2,162.3 L374.9,162.3 L376.8,160.4 L380.1,161.4 L384.0,161.4 L384.5,161.2 L387.8,152.3 L390.7,149.0 L391.4,130.6 L395.1,126.5 L397.8,124.2 L398.7,118.7 L400.6,115.9 L403.3,111.3 L406.1,108.1 L408.4,106.3 L409.7,104.0 L410.2,95.3 L412.0,92.1 L414.3,90.7 L416.6,87.0 L418.9,84.7 L421.7,83.4 L424.4,81.1 L426.7,81.5 L428.1,82.9 L428.8,91.2 L429.9,82.9 L431.3,78.8 L433.6,80.6 L435.0,79.2 L437.2,77.9 L439.1,77.0 L441.4,80.6 L443.7,82.0 L445.5,77.0 L447.3,74.2 L450.1,73.7 L450.8,76.0 L451.5,81.1 L452.6,81.5 L453.0,100.3 L454.7,91.6 L457.4,91.2 L458.8,98.5 L461.1,92.1 L463.4,89.8 L464.6,90.7 L464.9,106.7 L466.6,105.4 L469.3,104.0 L470.7,109.5 L473.0,107.7 L475.7,107.7 L477.1,114.1 L478.5,111.3 L481.2,110.0 L483.5,110.9 L484.0,118.7 L486.8,119.0 L491.3,122.3 L495.7,124.5 L502.4,127.9 L509.1,131.2 L515.7,135.7 L521.3,137.9 L524.6,139.7 L526.9,140.1" fill="none" stroke="#cc0000" stroke-width="4.5" stroke-linejoin="round" stroke-linecap="round"/>
<text transform="translate(307.30 32.60) rotate(0.03)" font-size="18.25" fill="#000" text-anchor="middle">Eurozone Excess Liquidity</text>
<text transform="translate(51.30 70.20) rotate(0.03) scale(0.8960 1)" font-size="17.3" fill="#000" text-anchor="end">5000</text>
<text transform="translate(563.20 70.20) rotate(0.03) scale(0.8960 1)" font-size="17.3" fill="#000">5000</text>
<text transform="translate(51.30 99.95) rotate(0.03) scale(0.8960 1)" font-size="17.3" fill="#000" text-anchor="end">4000</text>
<text transform="translate(563.20 99.95) rotate(0.03) scale(0.8960 1)" font-size="17.3" fill="#000">4000</text>
<text transform="translate(51.30 129.70) rotate(0.03) scale(0.8960 1)" font-size="17.3" fill="#000" text-anchor="end">3000</text>
<text transform="translate(563.20 129.70) rotate(0.03) scale(0.8960 1)" font-size="17.3" fill="#000">3000</text>
<text transform="translate(51.30 159.45) rotate(0.03) scale(0.8960 1)" font-size="17.3" fill="#000" text-anchor="end">2000</text>
<text transform="translate(563.20 159.45) rotate(0.03) scale(0.8960 1)" font-size="17.3" fill="#000">2000</text>
<text transform="translate(51.30 189.20) rotate(0.03) scale(0.8960 1)" font-size="17.3" fill="#000" text-anchor="end">1000</text>
<text transform="translate(563.20 189.20) rotate(0.03) scale(0.8960 1)" font-size="17.3" fill="#000">1000</text>
<text transform="translate(51.30 218.95) rotate(0.03) scale(0.8960 1)" font-size="17.3" fill="#000" text-anchor="end">0</text>
<text transform="translate(563.20 218.95) rotate(0.03) scale(0.8960 1)" font-size="17.3" fill="#000">0</text>
<text transform="translate(51.30 248.70) rotate(0.03) scale(0.8960 1)" font-size="17.3" fill="#000" text-anchor="end">-1000</text>
<text transform="translate(563.20 248.70) rotate(0.03) scale(0.8960 1)" font-size="17.3" fill="#000">-1000</text>
<text transform="translate(65.00 267.20) rotate(0.03) scale(0.8960 1)" font-size="17.3" fill="#000" text-anchor="middle">2007</text>
<text transform="translate(113.45 267.20) rotate(0.03) scale(0.8960 1)" font-size="17.3" fill="#000" text-anchor="middle">2009</text>
<text transform="translate(161.90 267.20) rotate(0.03) scale(0.8960 1)" font-size="17.3" fill="#000" text-anchor="middle">2011</text>
<text transform="translate(210.35 267.20) rotate(0.03) scale(0.8960 1)" font-size="17.3" fill="#000" text-anchor="middle">2013</text>
<text transform="translate(258.80 267.20) rotate(0.03) scale(0.8960 1)" font-size="17.3" fill="#000" text-anchor="middle">2015</text>
<text transform="translate(307.25 267.20) rotate(0.03) scale(0.8960 1)" font-size="17.3" fill="#000" text-anchor="middle">2017</text>
<text transform="translate(355.70 267.20) rotate(0.03) scale(0.8960 1)" font-size="17.3" fill="#000" text-anchor="middle">2019</text>
<text transform="translate(404.15 267.20) rotate(0.03) scale(0.8960 1)" font-size="17.3" fill="#000" text-anchor="middle">2021</text>
<text transform="translate(452.60 267.20) rotate(0.03) scale(0.8960 1)" font-size="17.3" fill="#000" text-anchor="middle">2023</text>
<text transform="translate(501.05 267.20) rotate(0.03) scale(0.8960 1)" font-size="17.3" fill="#000" text-anchor="middle">2025</text>
<rect x="24" y="293" width="33" height="8" fill="#afafaf"/>
<rect x="24" y="318" width="33" height="8" fill="#0070c0"/>
<rect x="23" y="344.4" width="36" height="3.4" rx="1.6" fill="#cc0000"/>
<rect x="322" y="293" width="34" height="8" fill="#10108a"/>
<rect x="322" y="318" width="34" height="8" fill="#31c5ea"/>
<text transform="translate(61.20 302.20) rotate(0.03) scale(0.8960 1)" font-size="17.3" fill="#000">Current Account Holdings (EbIn)</text>
<text transform="translate(61.20 327.20) rotate(0.03) scale(0.8960 1)" font-size="17.3" fill="#000">Required Reserves (EbIn)</text>
<text transform="translate(61.20 351.20) rotate(0.03) scale(0.8960 1)" font-size="17.3" fill="#000">Excess Liquidity (EbIn, Summation)</text>
<text transform="translate(359.50 302.20) rotate(0.03) scale(0.8960 1)" font-size="17.3" fill="#000">Deposit Facility (EbIn)</text>
<text transform="translate(359.50 327.20) rotate(0.03) scale(0.8960 1)" font-size="17.3" fill="#000">Marginal Lending Facility (EbIn)</text>
<text transform="translate(327.00 353.80) rotate(0.03)" font-size="12.1" fill="#000">Excess liquidity = CA + DF - RR - MLF</text>
<text transform="translate(328.70 373.00) rotate(0.03) scale(1.0880 1)" font-size="9.6" fill="#000">Sources: Bloomberg Finance L.P., MNI, ECB.</text>
</g>
<g id="right" shape-rendering="crispEdges">
<path d="M923.8,193.8 L928.1,187.9 L934.9,176.0 L940.0,170.0 L951.9,158.1 L957.0,154.3 L968.9,144.5 L979.1,135.1 L992.8,122.3 L1004.7,111.3 L1013.2,105.7 L1023.4,102.3 L1047.2,102.3 L1046.8,102.3 L1062.1,102.3 L1077.4,105.7 L1091.1,110.4 L1104.7,113.8 L1118.3,118.9 L1135.3,124.0 L1152.3,130.0 L1159.1,135.1 L1172.8,142.8 L1184.7,146.2 L1189.8,149.6 L1196.9,150.4 L1196.9,301.0 L923.8,301.0Z" fill="#0070c0"/>
<path d="M687.0,297.8 L691.3,295.8 L695.5,292.8 L699.8,289.5 L704.0,286.4 L709.1,283.3 L714.3,280.2 L719.4,277.2 L724.5,274.5 L727.9,272.2 L731.3,270.2 L734.7,268.4 L738.1,266.5 L740.2,264.5 L742.3,262.6 L744.5,260.6 L746.6,258.6 L749.6,256.6 L752.6,254.6 L755.5,252.4 L758.5,250.1 L761.5,247.6 L764.5,244.9 L767.4,242.1 L770.4,239.6 L773.0,237.2 L775.5,235.0 L778.1,232.9 L780.6,231.1 L782.8,229.6 L784.9,228.5 L787.0,227.3 L789.1,226.0 L792.6,224.2 L796.0,222.3 L799.4,220.3 L802.8,218.3 L805.7,216.3 L808.7,214.2 L811.7,212.3 L814.7,210.6 L816.8,209.4 L818.9,208.6 L821.1,207.9 L823.2,207.2 L825.3,206.7 L827.4,206.4 L829.6,206.1 L831.7,205.5 L836.0,204.6 L840.2,203.5 L844.5,202.3 L848.7,201.3 L851.3,200.5 L853.8,199.7 L856.4,199.1 L858.9,198.7 L859.2,198.6 L859.5,198.7 L859.7,198.9 L860.0,198.9 L865.5,198.9 L871.1,198.8 L876.6,198.7 L882.1,198.6 L888.5,198.5 L894.9,198.4 L901.3,198.3 L907.7,198.1 L910.6,197.8 L913.6,197.5 L916.6,197.0 L919.6,196.4 L921.7,195.5 L923.8,194.4 L926.0,193.2 L928.1,192.1 L931.5,191.3 L934.9,190.5 L938.3,189.7 L941.7,188.7 L946.8,187.5 L951.9,186.2 L957.0,184.9 L962.1,183.6 L967.2,182.5 L972.3,181.4 L977.4,180.4 L982.6,179.4 L988.1,178.3 L993.6,177.2 L999.1,176.1 L1004.7,175.1 L1008.5,174.2 L1012.3,173.4 L1016.2,172.7 L1020.0,172.0 L1022.6,171.5 L1025.1,171.0 L1027.7,170.6 L1030.2,170.3 L1034.5,170.2 L1038.7,170.1 L1043.0,170.0 L1047.2,170.0 L1047.1,170.0 L1047.0,170.0 L1046.9,170.0 L1046.8,170.0 L1049.8,169.9 L1052.8,169.8 L1055.7,169.8 L1058.7,170.0 L1062.6,170.4 L1066.4,171.0 L1070.2,171.7 L1074.0,172.6 L1078.3,173.7 L1082.6,174.9 L1086.8,176.3 L1091.1,177.7 L1095.3,178.9 L1099.6,180.2 L1103.8,181.5 L1108.1,182.8 L1112.3,184.0 L1116.6,185.3 L1120.9,186.6 L1125.1,187.9 L1129.4,189.2 L1133.6,190.5 L1137.9,191.8 L1142.1,193.0 L1145.5,194.1 L1148.9,195.1 L1152.3,196.1 L1155.7,197.2 L1160.0,198.5 L1164.3,199.9 L1168.5,201.3 L1172.8,202.3 L1175.7,203.0 L1178.7,203.5 L1181.7,203.8 L1184.7,204.4 L1187.7,205.2 L1190.8,206.2 L1193.9,207.1 L1196.9,207.8 L1196.9,301.0 L687.0,301.0Z" fill="#afafaf"/>
<path d="M687.0,297.8 L691.3,295.8 L695.5,292.8 L699.8,289.5 L704.0,286.4 L709.1,283.3 L714.3,280.2 L719.4,277.2 L724.5,274.5 L727.9,272.2 L731.3,270.2 L734.7,268.4 L738.1,266.5 L740.2,264.5 L742.3,262.6 L744.5,260.6 L746.6,258.6 L749.6,256.7 L752.6,254.8 L755.5,252.8 L758.5,250.6 L761.5,248.3 L764.5,245.7 L767.4,243.2 L770.4,240.9 L772.6,239.1 L774.7,237.5 L776.8,236.0 L778.9,234.5 L781.5,232.9 L784.0,231.3 L786.6,229.7 L789.1,228.0 L792.6,226.3 L796.0,224.4 L799.4,222.6 L802.8,220.9 L806.2,219.0 L809.6,217.2 L813.0,215.5 L816.4,214.0 L820.2,213.0 L824.0,212.1 L827.9,211.4 L831.7,210.6 L836.0,209.7 L840.2,208.8 L844.5,207.9 L848.7,207.2 L851.3,206.7 L853.8,206.3 L856.4,206.1 L858.9,205.9 L859.2,205.7 L859.5,205.7 L859.7,205.7 L860.0,205.7 L864.3,205.8 L868.5,205.9 L872.8,206.0 L877.0,206.1 L884.7,206.1 L892.3,206.0 L900.0,205.9 L907.7,205.7 L910.2,205.5 L912.8,205.3 L915.3,204.9 L917.9,204.4 L920.4,203.6 L923.0,202.6 L925.5,201.6 L928.1,200.6 L931.5,199.8 L934.9,198.9 L938.3,198.1 L941.7,197.2 L946.8,196.4 L951.9,195.5 L957.0,194.7 L962.1,193.8 L967.2,193.0 L972.3,192.1 L977.4,191.3 L982.6,190.4 L988.1,189.6 L993.6,188.7 L999.1,187.8 L1004.7,187.0 L1008.9,186.3 L1013.2,185.6 L1017.4,185.0 L1021.7,184.5 L1023.8,184.1 L1026.0,183.9 L1028.1,183.7 L1030.2,183.6 L1034.5,183.6 L1038.7,183.6 L1043.0,183.6 L1047.2,183.6 L1047.1,183.7 L1047.0,183.7 L1046.9,183.8 L1046.8,183.8 L1049.8,183.7 L1052.8,183.6 L1055.7,183.5 L1058.7,183.6 L1062.6,183.9 L1066.4,184.3 L1070.2,184.9 L1074.0,185.7 L1078.3,186.7 L1082.6,188.0 L1086.8,189.4 L1091.1,190.8 L1095.3,192.0 L1099.6,193.2 L1103.8,194.3 L1108.1,195.5 L1112.3,196.7 L1116.6,197.9 L1120.9,199.1 L1125.1,200.3 L1129.4,201.5 L1133.6,202.7 L1137.9,203.8 L1142.1,204.9 L1145.5,205.8 L1148.9,206.6 L1152.3,207.4 L1155.7,208.3 L1160.0,209.5 L1164.3,210.9 L1168.5,212.3 L1172.8,213.4 L1175.7,214.2 L1178.7,214.8 L1181.7,215.4 L1184.7,216.0 L1187.7,216.7 L1190.8,217.4 L1193.9,218.1 L1196.9,218.5 L1196.9,301.0 L687.0,301.0Z" fill="#10108a"/>
<path d="M677.1,299.1 L687.0,297.8 L698.9,296.3 L710.9,295.2 L726.2,294.0 L739.8,293.0 L772.1,292.2 L813.0,291.5 L840.2,291.1 L862.3,291.0 L880.0,290.8 L912.0,290.4 L960.0,290.0 L1005.0,289.2 L1040.0,288.6 L1050.2,288.5 L1070.6,289.0 L1074.0,290.2 L1113.2,290.2 L1114.9,291.1 L1148.9,291.4 L1152.3,292.3 L1171.1,292.4 L1174.5,293.3 L1196.9,293.3 L1196.9,301.0 L677.1,301.0Z" fill="#31cdee"/>
<rect x="677" y="301" width="528" height="1" fill="#d4d4d4"/>
<rect x="677" y="301" width="1" height="6" fill="#d4d4d4"/>
<rect x="724" y="301" width="1" height="6" fill="#d4d4d4"/>
<rect x="771" y="301" width="1" height="6" fill="#d4d4d4"/>
<rect x="818" y="301" width="1" height="6" fill="#d4d4d4"/>
<rect x="865" y="301" width="1" height="6" fill="#d4d4d4"/>
<rect x="912" y="301" width="1" height="6" fill="#d4d4d4"/>
<rect x="959" y="301" width="1" height="6" fill="#d4d4d4"/>
<rect x="1005" y="301" width="1" height="6" fill="#d4d4d4"/>
<rect x="1052" y="301" width="1" height="6" fill="#d4d4d4"/>
<rect x="1099" y="301" width="1" height="6" fill="#d4d4d4"/>
<rect x="1146" y="301" width="1" height="6" fill="#d4d4d4"/>
<rect x="1193" y="301" width="1" height="6" fill="#d4d4d4"/>
</g>
<g id="rightText">
<text transform="translate(929.50 32.80) rotate(0.03)" font-size="18.1" fill="#000" text-anchor="middle">ECB Monetary Policy Positions, EbIn</text>
<text transform="translate(664.40 62.60) rotate(0.03) scale(0.8960 1)" font-size="17.3" fill="#000" text-anchor="end">6000</text>
<text transform="translate(664.40 104.10) rotate(0.03) scale(0.8960 1)" font-size="17.3" fill="#000" text-anchor="end">5000</text>
<text transform="translate(664.40 144.70) rotate(0.03) scale(0.8960 1)" font-size="17.3" fill="#000" text-anchor="end">4000</text>
<text transform="translate(664.40 185.10) rotate(0.03) scale(0.8960 1)" font-size="17.3" fill="#000" text-anchor="end">3000</text>
<text transform="translate(664.40 225.40) rotate(0.03) scale(0.8960 1)" font-size="17.3" fill="#000" text-anchor="end">2000</text>
<text transform="translate(664.40 265.90) rotate(0.03) scale(0.8960 1)" font-size="17.3" fill="#000" text-anchor="end">1000</text>
<text transform="translate(664.40 306.20) rotate(0.03) scale(0.8960 1)" font-size="17.3" fill="#000" text-anchor="end">0</text>
<text transform="translate(677.70 325.20) rotate(0.03) scale(0.8960 1)" font-size="17.3" fill="#000" text-anchor="middle">2015</text>
<text transform="translate(724.64 325.20) rotate(0.03) scale(0.8960 1)" font-size="17.3" fill="#000" text-anchor="middle">2016</text>
<text transform="translate(771.58 325.20) rotate(0.03) scale(0.8960 1)" font-size="17.3" fill="#000" text-anchor="middle">2017</text>
<text transform="translate(818.52 325.20) rotate(0.03) scale(0.8960 1)" font-size="17.3" fill="#000" text-anchor="middle">2018</text>
<text transform="translate(865.46 325.20) rotate(0.03) scale(0.8960 1)" font-size="17.3" fill="#000" text-anchor="middle">2019</text>
<text transform="translate(912.40 325.20) rotate(0.03) scale(0.8960 1)" font-size="17.3" fill="#000" text-anchor="middle">2020</text>
<text transform="translate(959.34 325.20) rotate(0.03) scale(0.8960 1)" font-size="17.3" fill="#000" text-anchor="middle">2021</text>
<text transform="translate(1006.28 325.20) rotate(0.03) scale(0.8960 1)" font-size="17.3" fill="#000" text-anchor="middle">2022</text>
<text transform="translate(1053.22 325.20) rotate(0.03) scale(0.8960 1)" font-size="17.3" fill="#000" text-anchor="middle">2023</text>
<text transform="translate(1100.16 325.20) rotate(0.03) scale(0.8960 1)" font-size="17.3" fill="#000" text-anchor="middle">2024</text>
<text transform="translate(1147.10 325.20) rotate(0.03) scale(0.8960 1)" font-size="17.3" fill="#000" text-anchor="middle">2025</text>
<text transform="translate(1194.04 325.20) rotate(0.03) scale(0.8960 1)" font-size="17.3" fill="#000" text-anchor="middle">2026</text>
<rect x="668" y="344" width="8" height="8" fill="#31cdee"/>
<text transform="translate(679.00 353.00) rotate(0.03) scale(0.8960 1)" font-size="17.3" fill="#000">CBPP</text>
<rect x="736" y="344" width="8" height="8" fill="#10108a"/>
<text transform="translate(747.00 353.00) rotate(0.03) scale(0.8960 1)" font-size="17.3" fill="#000">PSPP</text>
<rect x="804" y="344" width="8" height="8" fill="#afafaf"/>
<text transform="translate(815.00 353.00) rotate(0.03) scale(0.8960 1)" font-size="17.3" fill="#000">CSPP</text>
<rect x="872" y="344" width="8" height="8" fill="#0070c0"/>
<text transform="translate(883.00 353.00) rotate(0.03) scale(0.8960 1)" font-size="17.3" fill="#000">PEPP</text>
<text transform="translate(951.00 372.80) rotate(0.03) scale(1.0880 1)" font-size="9.6" fill="#000">Sources: Bloomberg Finance L.P., MNI, ECB.</text>
</g>
<g id="bottom">
<rect x="370" y="599.3" width="510.8" height="57.6" fill="#e5e9f5"/>
<g stroke="#dedede" stroke-width="1" shape-rendering="crispEdges">
<path d="M369.2,643.5H882.3"/>
<path d="M369.2,605.5H882.3"/>
<path d="M369.2,568.5H882.3"/>
<path d="M369.2,531.5H882.3"/>
<path d="M369.2,494.5H882.3"/>
<path d="M426.5,494.2V680.3"/>
<path d="M483.5,494.2V680.3"/>
<path d="M540.5,494.2V680.3"/>
<path d="M597.5,494.2V680.3"/>
<path d="M654.5,494.2V680.3"/>
<path d="M711.5,494.2V680.3"/>
<path d="M768.5,494.2V680.3"/>
<path d="M825.5,494.2V680.3"/>
<path d="M882.5,494.2V680.3"/>
</g>
<path d="M370,599.4H880.8" stroke="#9a9a9a" stroke-width="1.1" stroke-dasharray="1 1.2" fill="none"/>
<path d="M375.3,622H880.8" stroke="#a3a3a3" stroke-width="1.3" stroke-dasharray="4.5 3.2 1.2 3.6" fill="none"/>
<path d="M370,657H880.8" stroke="#9a9a9a" stroke-width="1.3" stroke-dasharray="2.5 1.5" fill="none"/>
<rect x="368.5" y="494" width="1.4" height="187" fill="#8c8c8c"/>
<rect x="368.5" y="680" width="514.3" height="1.1" fill="#8c8c8c"/>
<rect x="368.6" y="680" width="1.2" height="3.2" fill="#8c8c8c"/>
<rect x="425.6" y="680" width="1.2" height="3.2" fill="#8c8c8c"/>
<rect x="482.6" y="680" width="1.2" height="3.2" fill="#8c8c8c"/>
<rect x="539.6" y="680" width="1.2" height="3.2" fill="#8c8c8c"/>
<rect x="596.6" y="680" width="1.2" height="3.2" fill="#8c8c8c"/>
<rect x="653.6" y="680" width="1.2" height="3.2" fill="#8c8c8c"/>
<rect x="710.7" y="680" width="1.2" height="3.2" fill="#8c8c8c"/>
<rect x="767.7" y="680" width="1.2" height="3.2" fill="#8c8c8c"/>
<rect x="824.7" y="680" width="1.2" height="3.2" fill="#8c8c8c"/>
<rect x="881.7" y="680" width="1.2" height="3.2" fill="#8c8c8c"/>
<path d="M369.2,611.4 L376.1,610.8 L383.3,610.8 L390.5,610.2 L396.2,612.3 L400.5,615.1 L407.7,615.4 L413.5,616.6 L418.7,614.3 L426.5,615.1 L433.6,615.4 L438.0,613.7 L442.9,606.5 L448.0,601.6 L452.4,595.3 L457.0,576.6 L461.9,572.8 L466.5,570.5 L471.1,562.2 L476.8,557.0 L481.2,553.2 L485.5,550.6 L490.7,546.9 L495.0,541.1 L499.9,530.5 L504.2,526.7 L509.1,524.7 L514.3,521.6 L520.0,519.5 L525.8,517.2 L533.0,515.2 L537.9,518.1 L543.1,516.7 L547.4,512.9 L551.7,514.4 L557.4,511.5 L561.8,510.9 L566.7,511.5 L571.3,515.2 L575.6,514.7 L580.5,508.6 L585.4,506.6 L590.0,508.6 L594.9,520.1 L599.8,527.3 L604.4,526.5 L609.3,528.8 L614.2,531.9 L618.8,527.3 L623.1,528.2 L627.7,544.9 L633.0,544.3 L637.3,544.9 L642.5,547.5 L647.4,548.6 L651.7,549.8 L657.4,549.8 L661.7,550.6 L666.1,552.1 L671.0,559.3 L676.1,560.7 L680.5,562.7 L685.4,565.6 L690.5,566.2 L695.4,567.9 L699.8,569.9 L704.9,571.4 L709.3,572.8 L713.6,571.4 L717.9,573.7 L723.6,575.7 L728.0,577.1 L732.9,578.6 L738.0,580.6 L742.4,582.0 L746.7,581.5" fill="none" stroke="#003299" stroke-width="1.9" stroke-linejoin="round" stroke-linecap="round"/>
<path d="M746.7,581.5 L758.2,584.3 L768.3,587.2 L776.9,590.1 L787.0,595.0 L797.1,599.3 L807.1,601.6 L815.8,603.6 L825.9,607.4 L835.9,609.4 L846.0,613.1 L856.1,616.9 L867.6,619.7 L880.6,624.1" fill="none" stroke="#003299" stroke-width="1.9" stroke-dasharray="8.4 7.3" stroke-linejoin="round"/>
<text transform="translate(610.60 401.60) rotate(0.03)" font-size="13.62" fill="#003299" font-weight="bold" text-anchor="middle">Excess reserves and bank reserve demand scenarios</text>
<text transform="translate(611.30 417.30) rotate(0.03)" font-size="13.4" fill="#003299" font-style="italic" text-anchor="middle">(EUR bn)</text>
<path d="M447.1,432.4H477.3" stroke="#003299" stroke-width="2.1"/>
<path d="M447.1,445.4H477.3" stroke="#003299" stroke-width="2.1" stroke-dasharray="5.9 6.0"/>
<path d="M447.1,457.9H477.3" stroke="#a8a8a8" stroke-width="1.1" stroke-dasharray="1 1.1"/>
<path d="M447.1,471H477.3" stroke="#a3a3a3" stroke-width="1.3" stroke-dasharray="4.5 3.2 1.2 3.6"/>
<path d="M447.1,483.7H477.3" stroke="#9a9a9a" stroke-width="1.3" stroke-dasharray="2.5 1.5"/>
<text transform="translate(479.70 435.35) rotate(0.03) scale(1.0420 1)" font-size="9.85" fill="#595959">Realised</text>
<text transform="translate(479.70 448.35) rotate(0.03) scale(1.0420 1)" font-size="9.85" fill="#595959">Projection</text>
<text transform="translate(479.70 461.35) rotate(0.03) scale(1.0420 1)" font-size="9.85" fill="#595959">Upper scenario (150% LCR target &amp; 30% reserves/HQLA)</text>
<text transform="translate(479.70 474.45) rotate(0.03) scale(1.0420 1)" font-size="9.85" fill="#595959">Mid scenario (130% LCR target &amp; 25% reserves/HQLA)</text>
<text transform="translate(479.70 487.15) rotate(0.03) scale(1.0420 1)" font-size="9.85" fill="#595959">Lower scenario (130% LCR target &amp; 10% reserves/HQLA)</text>
<text transform="translate(360.40 683.50) rotate(0.03)" font-size="10.1" fill="#595959" text-anchor="end">0</text>
<text transform="translate(360.40 646.28) rotate(0.03)" font-size="10.1" fill="#595959" text-anchor="end">1000</text>
<text transform="translate(360.40 609.06) rotate(0.03)" font-size="10.1" fill="#595959" text-anchor="end">2000</text>
<text transform="translate(360.40 571.84) rotate(0.03)" font-size="10.1" fill="#595959" text-anchor="end">3000</text>
<text transform="translate(360.40 534.62) rotate(0.03)" font-size="10.1" fill="#595959" text-anchor="end">4000</text>
<text transform="translate(360.40 497.40) rotate(0.03)" font-size="10.1" fill="#595959" text-anchor="end">5000</text>
<text transform="translate(371.30 695.00) rotate(0.03)" font-size="10.1" fill="#595959" text-anchor="middle">2019</text>
<text transform="translate(428.31 695.00) rotate(0.03)" font-size="10.1" fill="#595959" text-anchor="middle">2020</text>
<text transform="translate(485.32 695.00) rotate(0.03)" font-size="10.1" fill="#595959" text-anchor="middle">2021</text>
<text transform="translate(542.33 695.00) rotate(0.03)" font-size="10.1" fill="#595959" text-anchor="middle">2022</text>
<text transform="translate(599.34 695.00) rotate(0.03)" font-size="10.1" fill="#595959" text-anchor="middle">2023</text>
<text transform="translate(656.35 695.00) rotate(0.03)" font-size="10.1" fill="#595959" text-anchor="middle">2024</text>
<text transform="translate(713.36 695.00) rotate(0.03)" font-size="10.1" fill="#595959" text-anchor="middle">2025</text>
<text transform="translate(770.37 695.00) rotate(0.03)" font-size="10.1" fill="#595959" text-anchor="middle">2026</text>
<text transform="translate(827.38 695.00) rotate(0.03)" font-size="10.1" fill="#595959" text-anchor="middle">2027</text>
<text transform="translate(321.60 714.10) rotate(0.03)" font-size="7.97" fill="#003299">Sources: ECB (Supervisory statistics and MOPDB), ECB calculations.</text>
<text transform="translate(321.60 722.90) rotate(0.03)" font-size="7.97" fill="#003299">Notes: The simulations take the current levels of the LCR and the share of EUR reserves in HQLA for significant banks and show the hypothetical reserve demand that</text>
<text transform="translate(321.60 732.55) rotate(0.03)" font-size="7.97" fill="#003299">would correspond to specified aggregate reserve shares and LCR target levels. It is assumed that less significant institutions target the same level as significant banks</text>
<text transform="translate(321.60 741.15) rotate(0.03)" font-size="7.97" fill="#003299">and that the other banks holding EUR reserves with the Eurosystem experience a proportional decline in reserves as the banks covered by LCR reporting. Scenario</text>
<text transform="translate(321.60 750.00) rotate(0.03)" font-size="7.97" fill="#003299">lines should not be interpreted as point estimates. The projections are based on quarterly Eurosystem internal balance sheet projections and assume take-up in</text>
<text transform="translate(321.60 759.50) rotate(0.03)" font-size="7.97" fill="#003299">standard refinancing operations is in line with the median SMA respondent.</text>
</g>
</svg>
</body></html>
